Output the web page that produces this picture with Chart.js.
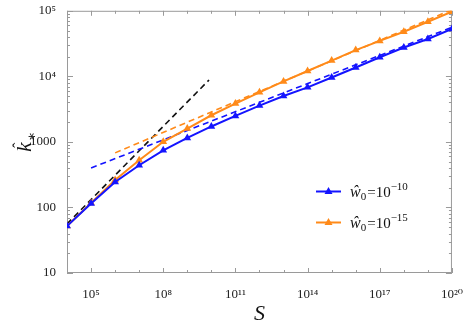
<!DOCTYPE html>
<html>
<head>
<meta charset="utf-8">
<script src="https://cdn.jsdelivr.net/npm/chart.js@4/dist/chart.umd.min.js"></script>
<style>
  html, body { margin: 0; padding: 0; background: #fff; }
  #wrap { width: 469px; height: 327px; position: relative; }
</style>
</head>
<body>
<div id="wrap"><canvas id="c" width="469" height="327"></canvas></div>
<script>
// ---- data ----
const S = [1e4, 1e5, 1e6, 1e7, 1e8, 1e9, 1e10, 1e11, 1e12, 1e13, 1e14, 1e15, 1e16, 1e17, 1e18, 1e19, 1e20];
const kBlue = [52, 115, 245, 440, 743, 1150, 1720, 2490, 3580, 5010, 6790, 9620, 13650, 19540, 27500, 37200, 52700];
const kOrange = [52, 117, 263, 524, 1004, 1600, 2550, 3840, 5700, 8370, 12080, 17420, 25160, 34700, 47970, 68100, 96600];
const blackDashS = [1e4, 8e9];
const blackDashK = [56, 8800];
const blueDashS = [1e5, 1e20];
const blueDashK = [400, 56000];
const orangeDashS = [1e6, 1e20];
const orangeDashK = [680, 104000];
const seriesLabels = ['\u0175|0|=10|\u221210', '\u0175|0|=10|\u221215'];
const xTickVals = [1e5, 1e8, 1e11, 1e14, 1e17, 1e20];
const xTickLabels = ['10\u2075', '10\u2078', '10\u00B9\u00B9', '10\u00B9\u2074', '10\u00B9\u2077', '10\u00B2\u2070'];
const yTickVals = [10, 100, 1000, 1e4, 1e5];
const yTickLabels = ['10', '100', '1000', '10\u2074', '10\u2075'];
const xTitle = 'S';
const yTitle = 'k';

const BLUE = 'rgb(20,20,255)';
const ORANGE = 'rgb(255,138,25)';
const SERIF = '"Liberation Serif", "DejaVu Serif", serif';

const pts = (xs, ys) => xs.map((x, i) => ({x: x, y: ys[i]}));

const framePlugin = {
  id: 'framePlugin',
  beforeDatasetsDraw(chart) {
    const {ctx, chartArea: a, scales} = chart;
    const xs = scales.x, ys = scales.y;
    ctx.save();
    ctx.strokeStyle = '#9a9a9a';
    ctx.lineWidth = 1;
    ctx.strokeRect(a.left + 0.5, a.top + 0.5, a.right - a.left - 1, a.bottom - a.top - 1);
    ctx.beginPath();
    // x ticks: every decade, major every 3 decades
    for (let e = 4; e <= 20; e++) {
      const px = Math.round(xs.getPixelForValue(Math.pow(10, e))) + 0.5;
      const len = (e % 3 === 2) ? 5 : 3;
      ctx.moveTo(px, a.bottom); ctx.lineTo(px, a.bottom - len);
      ctx.moveTo(px, a.top); ctx.lineTo(px, a.top + len);
    }
    // y ticks
    for (let e = 1; e <= 5; e++) {
      for (let m = 1; m <= 9; m++) {
        const v = m * Math.pow(10, e);
        if (v > 1e5) break;
        const py = Math.round(ys.getPixelForValue(v)) + 0.5;
        const len = (m === 1) ? 6 : 3;
        ctx.moveTo(a.left, py); ctx.lineTo(a.left + len, py);
        ctx.moveTo(a.right, py); ctx.lineTo(a.right - len, py);
      }
    }
    ctx.stroke();
    ctx.restore();
  },
  afterDraw(chart) {
    const {ctx, chartArea: a} = chart;
    ctx.save();
    ctx.fillStyle = '#111';
    // x title
    ctx.font = 'italic 22px ' + SERIF;
    ctx.textAlign = 'center';
    ctx.textBaseline = 'alphabetic';
    ctx.fillText(xTitle, (a.left + a.right) / 2, 320);
    // y title, rotated
    ctx.save();
    ctx.translate(31, 143);
    ctx.rotate(-Math.PI / 2);
    ctx.font = 'italic 22px ' + SERIF;
    ctx.textAlign = 'left';
    ctx.fillText(yTitle, -9, 0);
    ctx.font = '16px ' + SERIF;
    ctx.fillText('\u02C6', -5, -7);
    ctx.font = '14px ' + SERIF;
    ctx.fillText('\u2217', 2, 5);
    ctx.restore();
    // legend
    const ds = chart.data.datasets;
    const rows = [{d: ds[0], y: 191.5}, {d: ds[1], y: 222.5}];
    rows.forEach(r => {
      ctx.strokeStyle = r.d.borderColor;
      ctx.lineWidth = 2;
      ctx.beginPath();
      ctx.moveTo(316, r.y); ctx.lineTo(341, r.y);
      ctx.stroke();
      ctx.fillStyle = r.d.borderColor;
      ctx.beginPath();
      ctx.moveTo(328.5, r.y - 4.5); ctx.lineTo(332.5, r.y + 2.5); ctx.lineTo(324.5, r.y + 2.5);
      ctx.closePath(); ctx.fill();
      const parts = r.d.label.split('|');
      ctx.fillStyle = '#111';
      ctx.textAlign = 'left';
      let x = 350;
      const base = r.y + 5;
      ctx.font = 'italic 16px ' + SERIF;
      ctx.fillText(parts[0], x, base); x += ctx.measureText(parts[0]).width;
      ctx.font = '11px ' + SERIF;
      ctx.fillText(parts[1], x, base + 3); x += ctx.measureText(parts[1]).width + 1;
      ctx.font = '15px ' + SERIF;
      ctx.fillText(parts[2], x, base); x += ctx.measureText(parts[2]).width;
      ctx.font = '11px ' + SERIF;
      ctx.fillText(parts[3], x, base - 7);
    });
    ctx.restore();
  }
};

const solid = (label, data, color) => ({
  label: label, data: data, showLine: true,
  borderColor: color, backgroundColor: color, borderWidth: 2,
  pointStyle: 'triangle', pointRadius: 4.5, pointHoverRadius: 4.5,
  pointBorderWidth: 0, pointBackgroundColor: color, tension: 0
});
const dashed = (label, data, color) => ({
  label: label, data: data, showLine: true,
  borderColor: color, borderWidth: 1.6, borderDash: [6, 4],
  pointRadius: 0, pointHoverRadius: 0, tension: 0
});

new Chart(document.getElementById('c'), {
  type: 'scatter',
  data: {
    datasets: [
      solid(seriesLabels[0], pts(S, kBlue), BLUE),
      solid(seriesLabels[1], pts(S, kOrange), ORANGE),
      dashed('blue asymptote', pts(blueDashS, blueDashK), BLUE),
      dashed('orange asymptote', pts(orangeDashS, orangeDashK), ORANGE),
      dashed('small-S asymptote', pts(blackDashS, blackDashK), '#111')
    ]
  },
  options: {
    responsive: false,
    animation: false,
    events: [],
    layout: { padding: { left: 0, right: 15, top: 9, bottom: 0 } },
    plugins: { legend: { display: false }, tooltip: { enabled: false } },
    scales: {
      x: {
        type: 'logarithmic', min: 1e4, max: 1e20,
        grid: { display: false }, border: { display: false },
        afterBuildTicks: s => { s.ticks = xTickVals.map(v => ({value: v})); },
        afterFit: s => { s.height = 54; },
        ticks: {
          autoSkip: false, maxRotation: 0, padding: 6, color: '#222',
          font: { family: SERIF, size: 13 },
          callback: v => { const i = xTickVals.indexOf(v); return i >= 0 ? xTickLabels[i] : ''; }
        }
      },
      y: {
        type: 'logarithmic', min: 10, max: 1e5,
        grid: { display: false }, border: { display: false },
        afterBuildTicks: s => { s.ticks = yTickVals.map(v => ({value: v})); },
        afterFit: s => { s.width = 67; },
        ticks: {
          autoSkip: false, padding: 3, color: '#222',
          font: { family: SERIF, size: 13 },
          callback: v => { const i = yTickVals.indexOf(v); return i >= 0 ? yTickLabels[i] : ''; }
        }
      }
    }
  },
  plugins: [framePlugin]
});
</script>
</body>
</html>
